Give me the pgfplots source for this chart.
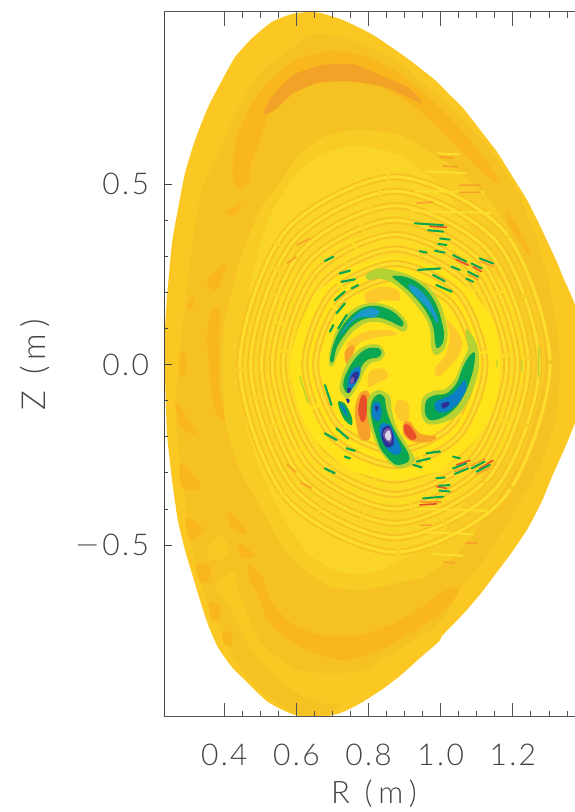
\documentclass[border=0pt]{standalone}
\usepackage{graphicx}
\usepackage{pgfplots}
\pgfplotsset{compat=1.18}
\usepackage{fontspec}
\setmainfont{Lato}[UprightFont=* Light,LetterSpace=8]
\newfontfamily\lbl{Lato}[UprightFont=* Light,LetterSpace=20]
\definecolor{c0}{HTML}{FBC722}
\definecolor{c1}{HTML}{F5C123}
\definecolor{c2}{HTML}{F9B71D}
\definecolor{c3}{HTML}{F2A227}
\definecolor{l3}{HTML}{F8CC24}
\definecolor{l4}{HTML}{FAD426}
\definecolor{l45}{HTML}{FCDB24}
\definecolor{l5}{HTML}{FFE41C}
\definecolor{halo}{HTML}{B4D234}
\definecolor{grn}{HTML}{0BA650}
\definecolor{tealb}{HTML}{1B9AC9}
\definecolor{blu}{HTML}{0A7FC4}
\definecolor{navy}{HTML}{2E3192}
\definecolor{purp}{HTML}{7A5BA8}
\definecolor{whit}{HTML}{DDD6EA}
\definecolor{redd}{HTML}{E8502A}
\definecolor{orng}{HTML}{F7A02A}
\definecolor{lorng}{HTML}{FCC82A}
\definecolor{ripd}{HTML}{F7C324}
\definecolor{ripl}{HTML}{FDDE2C}
\definecolor{tx}{HTML}{444444}
\definecolor{sp}{HTML}{555555}
\newcommand{\blob}[2]{\addplot[draw=none,fill=#1,smooth cycle,tension=0.55,forget plot] coordinates {#2};}
\newcommand{\layer}[2]{\addplot[draw=none,fill=#1,smooth cycle,tension=0.35,forget plot] coordinates {#2};}
\newcommand{\ring}[1]{\addplot[draw=ripd,double=ripl,double distance=3pt,line width=2pt,smooth cycle,forget plot,dash pattern=on 130pt off 3pt] coordinates {#1};}
\newcommand{\streak}[3]{\addplot[draw=#1,line width=#2,line cap=round,unbounded coords=jump,forget plot] coordinates {#3};}
\begin{document}
\begin{tikzpicture}[x=1pt,y=1pt]
\path[use as bounding box] (0,0) rectangle (574,812);
\begin{axis}[
  at={(164.5pt,95.3pt)},anchor=south west,scale only axis,
  width=427.7pt,height=705pt,
  xmin=0.2341,xmax=1.42,ymin=-0.9756,ymax=0.9773,
  axis on top,
  axis line style={draw=sp,line width=1.1pt},
  tick align=inside,xtick pos=both,
  xtick={0.4,0.6,0.8,1.0,1.2,1.4},
  xticklabels={0.4,0.6,0.8,1.0,1.2,},
  minor x tick num=3,
  ytick=\empty,
  major tick length=14pt,minor tick length=6pt,
  tick style={draw=sp,line width=0.8pt},
  xticklabel style={font=\fontsize{30}{30}\selectfont,text=tx,yshift=-24pt},
  xlabel={R (m)},
  xlabel style={font=\fontsize{31}{31}\selectfont\lbl,text=tx,at={(axis cs:.815,-1.19)},anchor=center},
]
% plasma boundary
\layer{c0}{(.629,.976)(.665,.974)(.729,.954)(.812,.913)(.906,.849)(.984,.788)(1.023,.749)(1.062,.710)(1.109,.650)(1.156,.589)(1.198,.522)(1.239,.456)(1.273,.389)(1.303,.325)(1.322,.284)(1.339,.242)(1.367,.179)(1.389,.109)(1.403,.054)(1.408,0)(1.406,-.051)(1.392,-.107)(1.370,-.168)(1.345,-.229)(1.314,-.298)(1.278,-.384)(1.239,-.458)(1.198,-.519)(1.156,-.575)(1.112,-.633)(1.065,-.688)(1.006,-.749)(.945,-.810)(.890,-.860)(.834,-.902)(.778,-.938)(.723,-.965)(.665,-.977)(.596,-.971)(.521,-.935)(.457,-.874)(.421,-.838)(.382,-.783)(.352,-.713)(.324,-.625)(.291,-.514)(.271,-.431)(.255,-.320)(.241,-.190)(.235,-.015)(.235,.087)(.241,.187)(.255,.337)(.271,.428)(.291,.530)(.319,.622)(.355,.713)(.394,.788)(.430,.852)(.477,.904)(.532,.949)(.588,.971)}
% darker band
\layer{c1}{(.638,.913)(.729,.907)(.859,.852)(.951,.780)(1.045,.697)(1.137,.594)(1.220,.464)(1.275,.317)(1.309,.179)(1.331,0)(1.317,-.154)(1.275,-.278)(1.195,-.422)(1.120,-.541)(1.056,-.616)(1.009,-.699)(.887,-.818)(.748,-.929)(.665,-.972)(.601,-.966)(.513,-.916)(.430,-.819)(.352,-.652)(.305,-.486)(.291,-.375)(.271,-.209)(.266,-.098)(.280,.068)(.296,.206)(.313,.345)(.341,.492)(.388,.594)(.424,.677)(.463,.752)(.507,.816)(.582,.871)}
% lighter lower band
\layer{c0}{(.391,-.597)(.427,-.569)(.441,-.633)(.496,-.763)(.546,-.810)(.601,-.846)(.696,-.855)(.787,-.846)(.879,-.791)(.973,-.735)(1.017,-.699)(.998,-.763)(.945,-.810)(.834,-.902)(.748,-.938)(.707,-.943)(.637,-.929)(.568,-.888)(.485,-.805)(.416,-.680)(.374,-.611)}
\blob{c0}{(.352,-.514)(.385,-.473)(.407,-.494)(.405,-.533)(.363,-.541)}
% orange crescents
\layer{c2}{(.425,.511)(.425,.576)(.439,.640)(.471,.714)(.526,.788)(.600,.844)(.693,.869)(.785,.857)(.878,.811)(.970,.737)(1.062,.645)(1.118,.576)(1.164,.502)(1.118,.530)(1.044,.604)(.970,.677)(.915,.724)(.841,.765)(.748,.784)(.656,.779)(.582,.747)(.526,.696)(.499,.622)(.471,.548)(.471,.511)(.443,.484)}
\layer{c3}{(.508,.694)(.531,.742)(.591,.802)(.674,.830)(.757,.832)(.831,.802)(.905,.770)(.942,.737)(.947,.722)(.905,.742)(.841,.770)(.757,.784)(.665,.782)(.591,.751)(.540,.705)}
\layer{c2}{(.468,-.560)(.501,-.588)(.533,-.661)(.584,-.717)(.649,-.745)(.722,-.754)(.796,-.745)(.870,-.717)(.935,-.680)(1.000,-.634)(1.037,-.615)(1.046,-.638)(1.000,-.689)(.944,-.726)(.870,-.772)(.787,-.809)(.713,-.818)(.630,-.791)(.565,-.754)(.519,-.708)(.496,-.643)(.473,-.597)}
\layer{c2}{(.363,.143)(.385,.151)(.385,-.062)(.407,-.162)(.371,-.118)(.352,.068)}
% mottled patches
\blob{c2}{(.296,-.425)(.344,-.458)(.308,-.486)(.296,-.458)}
\blob{c2}{(.324,-.555)(.363,-.561)(.352,-.605)(.330,-.597)}
\blob{c2}{(.358,-.658)(.391,-.672)(.380,-.708)(.363,-.703)}
\blob{c2}{(.396,-.744)(.421,-.741)(.419,-.777)(.399,-.771)}
\blob{c2}{(.441,-.494)(.482,-.528)(.449,-.536)}
\blob{c2}{(.413,-.411)(.463,-.467)(.419,-.453)}
\blob{c2}{(.468,-.555)(.510,-.597)(.474,-.605)}
\blob{c2}{(.266,-.107)(.324,-.190)(.280,-.173)}
\blob{c2}{(.288,.040)(.296,.004)(.283,-.035)(.274,.004)}
\blob{c2}{(.280,-.273)(.335,-.339)(.283,-.339)}
\blob{c2}{(.405,.420)(.446,.447)(.432,.414)}
\blob{c2}{(.352,.234)(.405,.281)(.377,.206)}
\blob{c2}{(.296,.159)(.316,.187)(.310,.151)}
\blob{c2}{(1.185,.420)(1.225,.360)(1.250,.300)(1.225,.330)(1.190,.385)}
\blob{c2}{(1.170,.310)(1.205,.265)(1.215,.225)(1.185,.265)}
% central lighter zones
\layer{l3}{(.762,.650)(.673,.630)(.601,.575)(.546,.492)(.499,.428)(.443,.289)(.402,.123)(.394,0)(.402,-.154)(.443,-.292)(.513,-.417)(.565,-.514)(.621,-.569)(.696,-.616)(.787,-.625)(.879,-.605)(.954,-.589)(1.040,-.528)(1.137,-.403)(1.220,-.265)(1.275,-.098)(1.289,0)(1.275,.151)(1.220,.317)(1.137,.456)(1.026,.553)(.887,.636)}
\layer{l4}{(.762,.608)(.665,.580)(.596,.525)(.527,.414)(.485,.276)(.457,.123)(.443,0)(.457,-.154)(.499,-.292)(.568,-.431)(.637,-.528)(.721,-.575)(.818,-.575)(.915,-.528)(1.012,-.458)(1.109,-.320)(1.178,-.181)(1.206,0)(1.178,.179)(1.109,.331)(1.012,.483)(.887,.580)}
\layer{l45}{(.873,.37)(.71,.335)(.59,.25)(.535,.125)(.52,0)(.535,-.14)(.59,-.265)(.71,-.36)(.873,-.40)(1.03,-.37)(1.15,-.265)(1.22,-.14)(1.235,0)(1.22,.135)(1.15,.25)(1.03,.335)}
% ripple crests
\ring{(1.303,0)(1.177,.368)(.873,.52)(.569,.368)(.443,0)(.569,-.368)(.873,-.52)(1.177,-.368)}
\ring{(1.273,0)(1.156,.339)(.873,.48)(.590,.339)(.473,0)(.590,-.339)(.873,-.48)(1.156,-.339)}
\ring{(1.243,0)(1.135,.311)(.873,.44)(.611,.311)(.503,0)(.611,-.311)(.873,-.44)(1.135,-.311)}
\ring{(1.213,0)(1.113,.283)(.873,.40)(.633,.283)(.533,0)(.633,-.283)(.873,-.40)(1.113,-.283)}
\ring{(1.183,0)(1.092,.255)(.873,.36)(.654,.255)(.563,0)(.654,-.255)(.873,-.36)(1.092,-.255)}
\ring{(1.153,0)(1.071,.226)(.873,.32)(.675,.226)(.593,0)(.675,-.226)(.873,-.32)(1.071,-.226)}
\layer{l5}{(.873,.295)(.748,.267)(.651,.193)(.604,.096)(.582,0)(.604,-.112)(.651,-.209)(.748,-.292)(.873,-.320)(.998,-.292)(1.095,-.209)(1.151,-.112)(1.165,0)(1.151,.109)(1.095,.193)(.998,.267)}
\ring{(1.123,0)(1.050,.198)(.873,.28)(.696,.198)(.623,0)(.696,-.198)(.873,-.28)(1.050,-.198)}
\ring{(1.093,0)(1.029,.170)(.873,.24)(.717,.170)(.653,0)(.717,-.170)(.873,-.24)(1.029,-.170)}
\layer{l5}{(.873,.22)(.76,.17)(.71,0)(.76,-.17)(.873,-.22)(.99,-.17)(1.05,0)(.99,.17)}
% broad orange lobes between the arms
\blob{lorng}{(.790,.197)(.836,.216)(.880,.207)(.885,.178)(.840,.178)(.800,.169)}
\blob{lorng}{(1.016,.123)(1.044,.095)(1.060,.059)(1.048,.022)(1.025,-.006)(.993,-.034)(.984,-.011)(1.011,.022)(1.025,.077)}
\blob{lorng}{(.739,.059)(.794,.091)(.859,.095)(.877,.082)(.831,.077)(.780,.063)(.753,.040)}
\blob{lorng}{(.803,-.020)(.840,-.011)(.854,-.034)(.822,-.052)(.799,-.062)}
\blob{lorng}{(.882,-.098)(.910,-.108)(.910,-.154)(.887,-.154)(.873,-.126)}
\blob{orng}{(.734,.035)(.753,.054)(.762,.045)(.748,.012)(.737,.003)}
\blob{orng}{(.776,-.080)(.799,-.075)(.808,-.117)(.805,-.172)(.803,-.205)(.780,-.209)(.767,-.172)(.762,-.121)}
\blob{redd}{(.780,-.087)(.792,-.087)(.796,-.121)(.790,-.154)(.780,-.158)(.771,-.126)}
\blob{orng}{(.896,-.163)(.914,-.158)(.942,-.191)(.988,-.200)(.970,-.214)(.924,-.214)(.898,-.195)}
\blob{redd}{(.898,-.168)(.913,-.168)(.933,-.200)(.919,-.209)(.901,-.191)}
% arm A
\blob{halo}{(.792,.248)(.827,.266)(.873,.260)(.924,.243)(.970,.211)(.998,.169)(1.013,.123)(1.019,.082)(1.011,.045)(.988,.026)(.974,.045)(.972,.086)(.961,.123)(.937,.158)(.905,.195)(.868,.225)(.831,.238)(.799,.234)}
\blob{grn}{(.866,.245)(.901,.243)(.933,.229)(.965,.202)(.988,.165)(1.002,.123)(1.009,.086)(1.005,.058)(.990,.045)(.984,.063)(.981,.095)(.970,.128)(.947,.165)(.914,.202)(.882,.229)}
\blob{tealb}{(.914,.223)(.942,.206)(.970,.174)(.990,.132)(.990,.114)(.974,.142)(.951,.169)(.928,.192)(.913,.211)}
% arm B
\blob{halo}{(.691,-.002)(.693,.040)(.713,.100)(.743,.142)(.785,.167)(.831,.169)(.877,.151)(.907,.114)(.898,.091)(.864,.106)(.827,.118)(.790,.114)(.757,.091)(.734,.063)(.716,.031)(.702,-.002)}
\blob{grn}{(.693,.012)(.702,.054)(.720,.095)(.748,.132)(.785,.158)(.827,.162)(.868,.146)(.896,.118)(.891,.105)(.864,.118)(.827,.130)(.785,.125)(.753,.105)(.730,.077)(.711,.045)(.702,.008)}
\blob{tealb}{(.720,.082)(.743,.114)(.776,.146)(.808,.158)(.831,.146)(.813,.130)(.780,.132)(.753,.118)(.730,.091)}
% arm C
\blob{halo}{(.845,.031)(.829,.054)(.796,.054)(.768,.038)(.743,.008)(.725,-.034)(.720,-.071)(.743,-.094)(.771,-.057)(.790,-.015)(.808,.005)(.831,.011)}
\blob{grn}{(.836,.033)(.827,.045)(.799,.045)(.776,.031)(.753,.003)(.734,-.034)(.730,-.061)(.743,-.080)(.762,-.052)(.780,-.006)(.799,.014)(.827,.020)}
\blob{blu}{(.776,-.006)(.755,-.015)(.743,-.043)(.743,-.075)(.759,-.061)(.776,-.029)}
\blob{navy}{(.771,-.020)(.755,-.026)(.748,-.052)(.759,-.052)(.771,-.036)}
\blob{purp}{(.759,-.034)(.750,-.041)(.751,-.054)(.759,-.048)}
\blob{navy}{(.741,-.066)(.752,-.066)(.748,-.078)(.741,-.076)}
\blob{grn}{(.716,-.103)(.734,-.108)(.753,-.145)(.753,-.168)(.734,-.154)(.720,-.126)}
\blob{blu}{(.720,-.110)(.732,-.117)(.743,-.145)(.734,-.137)}
\blob{navy}{(.737,-.094)(.748,-.098)(.743,-.108)}
% arm D
\blob{halo}{(.831,-.071)(.859,-.089)(.864,-.126)(.877,-.172)(.910,-.228)(.928,-.265)(.896,-.288)(.864,-.278)(.836,-.246)(.817,-.209)(.799,-.154)(.796,-.108)(.808,-.080)}
\blob{grn}{(.831,-.082)(.845,-.094)(.848,-.117)(.859,-.154)(.882,-.200)(.910,-.246)(.910,-.269)(.877,-.278)(.850,-.255)(.831,-.228)(.813,-.172)(.805,-.126)(.813,-.094)}
\blob{blu}{(.817,-.103)(.831,-.108)(.836,-.135)(.827,-.158)(.811,-.145)(.811,-.117)}
\blob{navy}{(.817,-.115)(.827,-.117)(.822,-.131)}
\blob{blu}{(.836,-.163)(.859,-.168)(.873,-.195)(.891,-.237)(.877,-.251)(.854,-.237)(.836,-.209)(.829,-.181)}
\blob{navy}{(.840,-.177)(.857,-.170)(.868,-.195)(.868,-.223)(.848,-.228)(.836,-.200)}
\blob{purp}{(.845,-.181)(.859,-.177)(.865,-.200)(.861,-.217)(.848,-.211)(.840,-.195)}
\blob{whit}{(.850,-.186)(.858,-.183)(.862,-.200)(.857,-.211)(.848,-.205)(.845,-.195)}
% arm E
\blob{halo}{(1.071,.100)(1.099,.058)(1.106,-.006)(1.085,-.080)(1.053,-.135)(1.007,-.161)(.965,-.165)(.947,-.140)(.949,-.094)(.979,-.073)(1.011,-.069)(1.039,-.041)(1.058,.003)(1.076,.045)(1.071,.072)}
\blob{grn}{(1.095,.031)(1.090,-.015)(1.071,-.071)(1.044,-.117)(1.007,-.146)(.970,-.154)(.956,-.131)(.961,-.098)(.984,-.085)(1.016,-.080)(1.044,-.052)(1.062,-.006)(1.081,.026)}
\blob{blu}{(1.067,-.043)(1.070,-.071)(1.048,-.108)(1.016,-.131)(.988,-.128)(.984,-.106)(1.007,-.094)(1.034,-.080)(1.053,-.057)}
\blob{navy}{(1.002,-.110)(1.021,-.103)(1.023,-.112)(1.007,-.122)}
% light and faint outer streaks
\streak{ripl}{2pt}{(.99,.585)(1.05,.582)(0,nan)(.96,.535)(1.07,.530)(0,nan)(.93,.480)(1.12,.478)(0,nan)(.92,.425)(1.14,.420)(0,nan)(.93,-.400)(1.13,-.405)(0,nan)(.95,-.465)(1.09,-.470)(0,nan)(.98,-.525)(1.06,-.530)}
\streak{orng}{1.6pt}{(.998,.575)(1.034,.572)(0,nan)(1.007,.550)(1.045,.547)(0,nan)(1.053,.497)(1.109,.497)(0,nan)(1.053,.477)(1.109,.477)(0,nan)(.934,.447)(.979,.450)(0,nan)(.945,-.381)(1.001,-.381)(0,nan)(.945,-.445)(.973,-.445)(0,nan)(1.009,-.547)(1.037,-.550)(0,nan)(1.070,-.495)(1.100,-.495)(0,nan)(.601,.331)(.635,.348)(0,nan)(.574,.281)(.599,.298)(0,nan)(.574,-.278)(.599,-.298)(0,nan)(.613,-.328)(.641,-.342)(0,nan)(1.034,.295)(1.071,.277)(0,nan)(1.076,.249)(1.104,.235)(0,nan)(1.108,.286)(1.145,.272)(0,nan)(1.039,-.296)(1.076,-.281)(0,nan)(1.085,-.280)(1.122,-.261)(0,nan)(1.099,-.305)(1.136,-.286)}
\streak{halo}{1.2pt}{(.609,-.034)(.633,-.108)(0,nan)(1.272,.049)(1.272,-.034)(0,nan)(1.225,.012)(1.225,-.016)(0,nan)(1.156,.012)(1.156,-.006)}
% red stripes
\streak{redd}{1.6pt}{(1.044,.291)(1.076,.275)(0,nan)(1.090,.271)(1.113,.257)(0,nan)(.970,.383)(1.016,.380)(0,nan)(.942,-.389)(.988,-.386)(0,nan)(.988,-.338)(1.016,-.343)(0,nan)(1.044,-.278)(1.081,-.266)(0,nan)(1.108,-.288)(1.145,-.266)}
% green stripes
\streak{grn}{2.2pt}{(.679,-.057)(.697,-.112)(0,nan)(.679,.287)(.702,.298)(0,nan)(.720,.252)(.748,.260)(0,nan)(.725,.229)(.762,.236)(0,nan)(.753,.211)(.771,.220)(0,nan)(.706,.178)(.734,.202)(0,nan)(.711,.142)(.734,.169)(0,nan)(.693,.091)(.702,.109)(0,nan)(.716,.100)(.739,.137)(0,nan)(.711,-.177)(.743,-.205)(0,nan)(.679,-.191)(.711,-.209)(0,nan)(.739,-.232)(.762,-.239)(0,nan)(.734,-.255)(.748,-.260)(0,nan)(.679,-.288)(.706,-.301)(0,nan)(.933,-.269)(.970,-.260)(0,nan)(.924,-.278)(.947,-.285)(0,nan)(.961,-.246)(.998,-.241)(0,nan)(.937,.262)(.998,.266)(0,nan)(.979,.248)(1.011,.231)(0,nan)(.988,.220)(1.030,.202)}
\streak{grn}{2pt}{(.928,.391)(1.007,.386)(0,nan)(.965,.372)(1.007,.368)(0,nan)(.998,.349)(1.025,.346)(0,nan)(.993,.334)(1.016,.331)(0,nan)(.942,.314)(.961,.310)(0,nan)(.984,.315)(1.011,.310)(0,nan)(1.034,.303)(1.071,.285)(0,nan)(1.030,.271)(1.053,.262)(0,nan)(1.108,.294)(1.145,.280)(0,nan)(1.076,.257)(1.104,.243)(0,nan)(1.071,.238)(1.090,.229)(0,nan)(1.085,.280)(1.113,.266)(0,nan)(.951,-.371)(1.007,-.366)(0,nan)(.988,-.315)(1.011,-.313)(0,nan)(.996,-.336)(1.025,-.334)(0,nan)(.996,-.349)(1.025,-.352)(0,nan)(1.034,-.288)(1.071,-.274)(0,nan)(1.039,-.303)(1.076,-.288)(0,nan)(1.085,-.288)(1.122,-.269)(0,nan)(1.099,-.297)(1.136,-.278)(0,nan)(1.034,-.255)(1.053,-.260)}
\end{axis}
\begin{axis}[
  at={(164.5pt,95.3pt)},anchor=south west,scale only axis,
  width=427.7pt,height=705pt,
  xmin=0.2341,xmax=1.42,ymin=-0.9756,ymax=0.9773,
  axis y line*=left,axis x line=none,
  axis line style={draw=tx,line width=1.1pt,-},
  tick align=inside,
  ytick={-0.5,0,0.5},
  yticklabels={\scalebox{1.5}[1]{−}\hspace{2pt}0.5,0.0,0.5},
  minor y tick num=4,
  major tick length=8pt,minor tick length=4pt,
  tick style={draw=tx,line width=0.8pt},
  yticklabel style={font=\fontsize{30}{30}\selectfont,text=tx,xshift=-12pt},
  ylabel={Z (m)},
  ylabel style={font=\fontsize{33}{33}\selectfont\lbl,text=tx,at={(axis cs:-.125,0)},anchor=center},
]
\addplot[draw=none,forget plot] coordinates {(0.5,0)(0.6,0.1)};
\end{axis}
\end{tikzpicture}
\end{document}
